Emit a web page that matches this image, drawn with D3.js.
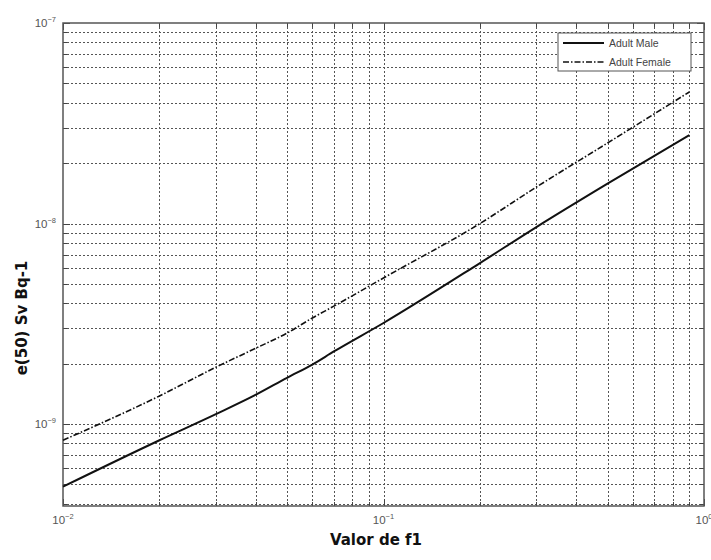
<!DOCTYPE html>
<html>
<head>
<meta charset="utf-8">
<style>
  body { margin: 0; background: #fff; }
  svg { display: block; }
</style>
</head>
<body>
<svg class="chart"></svg>

<script src="https://cdn.jsdelivr.net/npm/d3@7"></script>
<script>
// f1 values and committed dose per Bq
const f1 = [0.01, 0.02, 0.03, 0.04, 0.05, 0.06, 0.07, 0.1, 0.2, 0.3, 0.5, 0.9];
const adultMale = [4.87e-10, 8.3e-10, 1.12e-9, 1.40e-9, 1.70e-9, 1.98e-9, 2.30e-9, 3.19e-9, 6.35e-9, 9.6e-9, 1.58e-8, 2.76e-8];
const adultFemale = [8.3e-10, 1.38e-9, 1.92e-9, 2.39e-9, 2.84e-9, 3.38e-9, 3.87e-9, 5.35e-9, 1.0e-8, 1.52e-8, 2.52e-8, 4.53e-8];
const seriesNames = ["Adult Male", "Adult Female"];
const xMajor = [-2, -1, 0];      // exponents of 10
const yMajor = [-9, -8, -7];

const width = 711, height = 560;
const margin = {top: 23, right: 7, bottom: 54, left: 63};

const x = d3.scaleLog()
    .domain([0.01, 1])
    .range([margin.left, width - margin.right]);

const y = d3.scaleLog()
    .domain([3.9e-10, 1e-7])
    .range([height - margin.bottom, margin.top]);

const svg = d3.select("svg")
    .attr("width", width)
    .attr("height", height)
    .attr("viewBox", [0, 0, width, height])
    .style("font-family", "'Liberation Sans', Arial, sans-serif");

const x0 = x.range()[0], x1 = x.range()[1];
const y0 = y.range()[0], y1 = y.range()[1];

// grid (major + minor, all dotted like matlab)
const grid = svg.append("g")
    .attr("stroke", "#555")
    .attr("stroke-width", 1)
    .attr("stroke-dasharray", "2,2");

grid.selectAll(".vx")
  .data(x.ticks().filter(d => d > 0.01 && d < 1))
  .join("line")
    .attr("x1", d => Math.round(x(d)) + 0.5)
    .attr("x2", d => Math.round(x(d)) + 0.5)
    .attr("y1", y1)
    .attr("y2", y0);

grid.selectAll(".hy")
  .data(y.ticks().filter(d => d < 1e-7 * 0.999))
  .join("line")
    .attr("y1", d => Math.round(y(d)) + 0.5)
    .attr("y2", d => Math.round(y(d)) + 0.5)
    .attr("x1", x0)
    .attr("x2", x1);

// tick marks inside the box, on all sides
const isMajor = v => Math.abs(Math.log10(v) - Math.round(Math.log10(v))) < 1e-6;
const ticks = svg.append("g").attr("stroke", "#444").attr("stroke-width", 1);
x.ticks().forEach(d => {
  const len = isMajor(d) ? 7 : 4;
  const px = Math.round(x(d)) + 0.5;
  ticks.append("line").attr("x1", px).attr("x2", px).attr("y1", y0).attr("y2", y0 - len);
  ticks.append("line").attr("x1", px).attr("x2", px).attr("y1", y1).attr("y2", y1 + len);
});
y.ticks().forEach(d => {
  const len = isMajor(d) ? 7 : 4;
  const py = Math.round(y(d)) + 0.5;
  ticks.append("line").attr("y1", py).attr("y2", py).attr("x1", x0).attr("x2", x0 + len);
  ticks.append("line").attr("y1", py).attr("y2", py).attr("x1", x1).attr("x2", x1 - len);
});

// box
svg.append("rect")
    .attr("x", x0)
    .attr("y", y1)
    .attr("width", x1 - x0)
    .attr("height", y0 - y1)
    .attr("fill", "none")
    .attr("stroke", "#555")
    .attr("stroke-width", 1.5);

// tick labels 10^k
function powLabel(g, e) {
  g.append("tspan").text("10");
  g.append("tspan").attr("dy", -5).attr("font-size", 7.5).text(String(e).replace("-", "\u2212"));
}

svg.append("g")
  .selectAll("text")
  .data(xMajor)
  .join("text")
    .attr("x", d => x(Math.pow(10, d)))
    .attr("y", y0 + 18)
    .attr("text-anchor", "middle")
    .attr("font-size", 11.5)
    .attr("fill", "#555")
    .each(function(d) { powLabel(d3.select(this), d); });

svg.append("g")
  .selectAll("text")
  .data(yMajor)
  .join("text")
    .attr("x", x0 - 7)
    .attr("y", d => y(Math.pow(10, d)) + 4)
    .attr("text-anchor", "end")
    .attr("font-size", 11.5)
    .attr("fill", "#555")
    .each(function(d) { powLabel(d3.select(this), d); });

// axis titles
svg.append("text")
    .attr("x", 376)
    .attr("y", 545)
    .attr("text-anchor", "middle")
    .attr("font-family", "'DejaVu Sans', sans-serif")
    .attr("font-weight", "bold")
    .attr("font-size", 15)
    .attr("fill", "#111")
    .text("Valor de f1");

svg.append("text")
    .attr("transform", "translate(27,318) rotate(-90)")
    .attr("text-anchor", "middle")
    .attr("font-family", "'DejaVu Sans', sans-serif")
    .attr("font-weight", "bold")
    .attr("font-size", 15)
    .attr("fill", "#111")
    .text("e(50) Sv Bq-1");

// curves
const line = d3.line()
    .curve(d3.curveMonotoneX)
    .x(d => x(d[0]))
    .y(d => y(d[1]));

const styles = [
  {values: adultMale, dash: null, width: 2},
  {values: adultFemale, dash: "6,2,1.5,2", width: 1.6}
];

svg.append("g")
  .selectAll("path")
  .data(styles)
  .join("path")
    .attr("fill", "none")
    .attr("stroke", "#111")
    .attr("stroke-width", d => d.width)
    .attr("stroke-dasharray", d => d.dash)
    .attr("d", d => line(f1.map((v, i) => [v, d.values[i]])));

// legend
const legend = svg.append("g").attr("transform", "translate(558,33)");
legend.append("rect")
    .attr("width", 133)
    .attr("height", 38)
    .attr("fill", "#fff")
    .attr("stroke", "#555")
    .attr("stroke-width", 1);

seriesNames.forEach((name, i) => {
  const ly = 10 + i * 19;
  legend.append("line")
      .attr("x1", 5).attr("x2", 46)
      .attr("y1", ly).attr("y2", ly)
      .attr("stroke", "#111")
      .attr("stroke-width", styles[i].width)
      .attr("stroke-dasharray", styles[i].dash);
  legend.append("text")
      .attr("x", 51)
      .attr("y", ly + 4)
      .attr("font-size", 10.5)
      .attr("fill", "#444")
      .text(name);
});
</script>
</body>
</html>
